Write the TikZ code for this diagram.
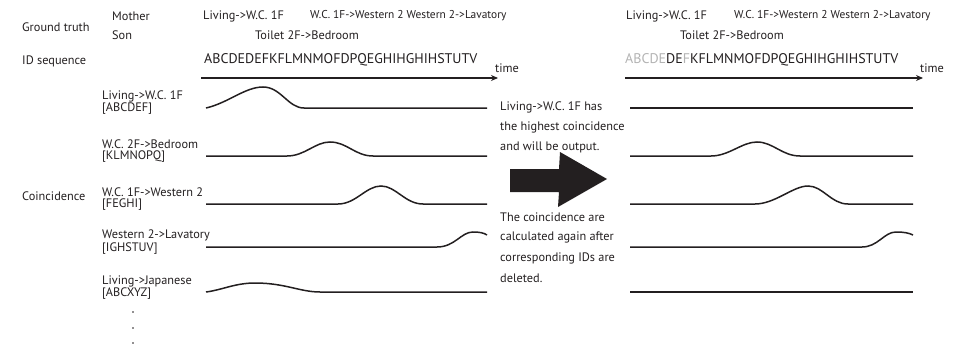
\documentclass[tikz,border=0pt]{standalone}
\usepackage{fontspec}
\setmainfont{PT Sans}
\usetikzlibrary{arrows.meta}
\definecolor{ink}{HTML}{231F20}
\definecolor{faded}{HTML}{B3B3B3}
\begin{document}
\begin{tikzpicture}[x=1pt,y=-1pt,
  lbl/.style={anchor=west,inner sep=0pt,text=ink,font=\fontsize{12.3}{14}\selectfont},
  lblnarrow/.style={lbl,font=\fontsize{11.4}{14}\selectfont},
  seq/.style={anchor=west,inner sep=0pt,text=ink,font=\fontsize{14}{16}\selectfont},
  curve/.style={draw=ink,line width=1.5pt},
  axis/.style={draw=ink,line width=1.5pt,-{Stealth[length=7pt,width=6pt]}},
  dotnode/.style={circle,fill=ink,inner sep=0pt,minimum size=1.8pt}]
\useasboundingbox (0,0) rectangle (961,345);
% header
\node[lbl] (gt) at (22,27) {Ground truth};
\node[lbl] (mo) at (112,16) {Mother};
\node[lbl] (so) at (112,35) {Son};
\node[lbl] (ids) at (22,61) {ID sequence};
\node[lbl] (coin) at (22,196) {Coincidence};
% left ground truth
\node[lbl] (lm1) at (203,16) {Living->W.C. 1F};
\node[lblnarrow] (lm2) at (310,16) {W.C. 1F->Western 2 Western 2->Lavatory};
\node[lbl] (ls1) at (255,35) {Toilet 2F->Bedroom};
\node[seq] (lseq) at (204,60) {ABCDEDEFKFLMNMOFDPQEGHIHGHIHSTUTV};
\coordinate (la0) at (201,78);
\coordinate (la1) at (498,78);
\draw[axis] (la0) -- (la1);
\node[lbl] (ltime) at (495,68) {time};
% right ground truth
\node[lbl] (rm1) at (626,16) {Living->W.C. 1F};
\node[lblnarrow] (rm2) at (734,16) {W.C. 1F->Western 2 Western 2->Lavatory};
\node[lbl] (rs1) at (680,35) {Toilet 2F->Bedroom};
\node[seq] (rseq) at (625,60) {\textcolor{faded}{ABCDE}DE\textcolor{faded}{F}KFLMNMOFDPQEGHIHGHIHSTUTV};
\coordinate (ra0) at (625,78);
\coordinate (ra1) at (923,78);
\draw[axis] (ra0) -- (ra1);
\node[lbl] (rtime) at (920,68) {time};
% row labels
\node[lbl] (r1a) at (102,96) {Living->W.C. 1F};
\node[lbl] (r1b) at (102,109) {[ABCDEF]};
\node[lbl] (r2a) at (102,144) {W.C. 2F->Bedroom};
\node[lbl] (r2b) at (102,157) {[KLMNOPQ]};
\node[lbl] (r3a) at (102,192) {W.C. 1F->Western 2};
\node[lbl] (r3b) at (102,205) {[FEGHI]};
\node[lbl] (r4a) at (102,235) {Western 2->Lavatory};
\node[lbl] (r4b) at (102,249) {[IGHSTUV]};
\node[lbl] (r5a) at (102,281) {Living->Japanese};
\node[lbl] (r5b) at (102,294) {[ABCXYZ]};
\node[dotnode] (d1) at (133,312) {};
\node[dotnode] (d2) at (133,328) {};
\node[dotnode] (d3) at (133,343) {};
% left curves
\draw[curve] (206,108) .. controls (228,103) and (245,87) .. (263,87) .. controls (281,87) and (288,108) .. (304,108) -- (487,108);
\draw[curve] (206,156) -- (287,156) .. controls (305,156) and (315,142) .. (330,142) .. controls (347,142) and (355,156) .. (373,156) -- (487,156);
\draw[curve] (206,204) -- (338,204) .. controls (356,204) and (366,186) .. (381,186) .. controls (396,186) and (405,204) .. (423,204) -- (487,204);
\draw[curve] (206,247) -- (437,247) .. controls (455,247) and (461,232) .. (473,232) .. controls (480,232) and (484,233) .. (487,235);
\draw[curve] (206,292) .. controls (222,290) and (235,283) .. (255,283) .. controls (285,283) and (300,292) .. (320,292) -- (487,292);
% right curves
\draw[curve] (630,108) -- (913,108);
\draw[curve] (630,156) -- (711,156) .. controls (729,156) and (742,142) .. (757,142) .. controls (773,142) and (782,156) .. (800,156) -- (913,156);
\draw[curve] (630,204) -- (755,204) .. controls (775,204) and (793,186) .. (808,186) .. controls (823,186) and (831,204) .. (848,204) -- (913,204);
\draw[curve] (630,247) -- (862,247) .. controls (878,247) and (884,232) .. (896,232) .. controls (904,232) and (909,233) .. (913,235);
\draw[curve] (630,292) -- (913,292);
% middle
\node[lbl] (m1) at (500,107) {Living->W.C. 1F has};
\node[lbl] (m2) at (500,127) {the highest coincidence};
\node[lbl] (m3) at (500,147) {and will be output.};
\node[lbl] (m4) at (500,217) {The coincidence are};
\node[lbl] (m5) at (500,237) {calculated again after};
\node[lbl] (m6) at (500,258) {corresponding IDs are};
\node[lbl] (m7) at (500,278) {deleted.};
\fill[ink] (510,169) -- (559,169) -- (560,152) -- (607,179) -- (558,207) -- (559,192) -- (510,192) -- cycle;
\end{tikzpicture}
\end{document}
